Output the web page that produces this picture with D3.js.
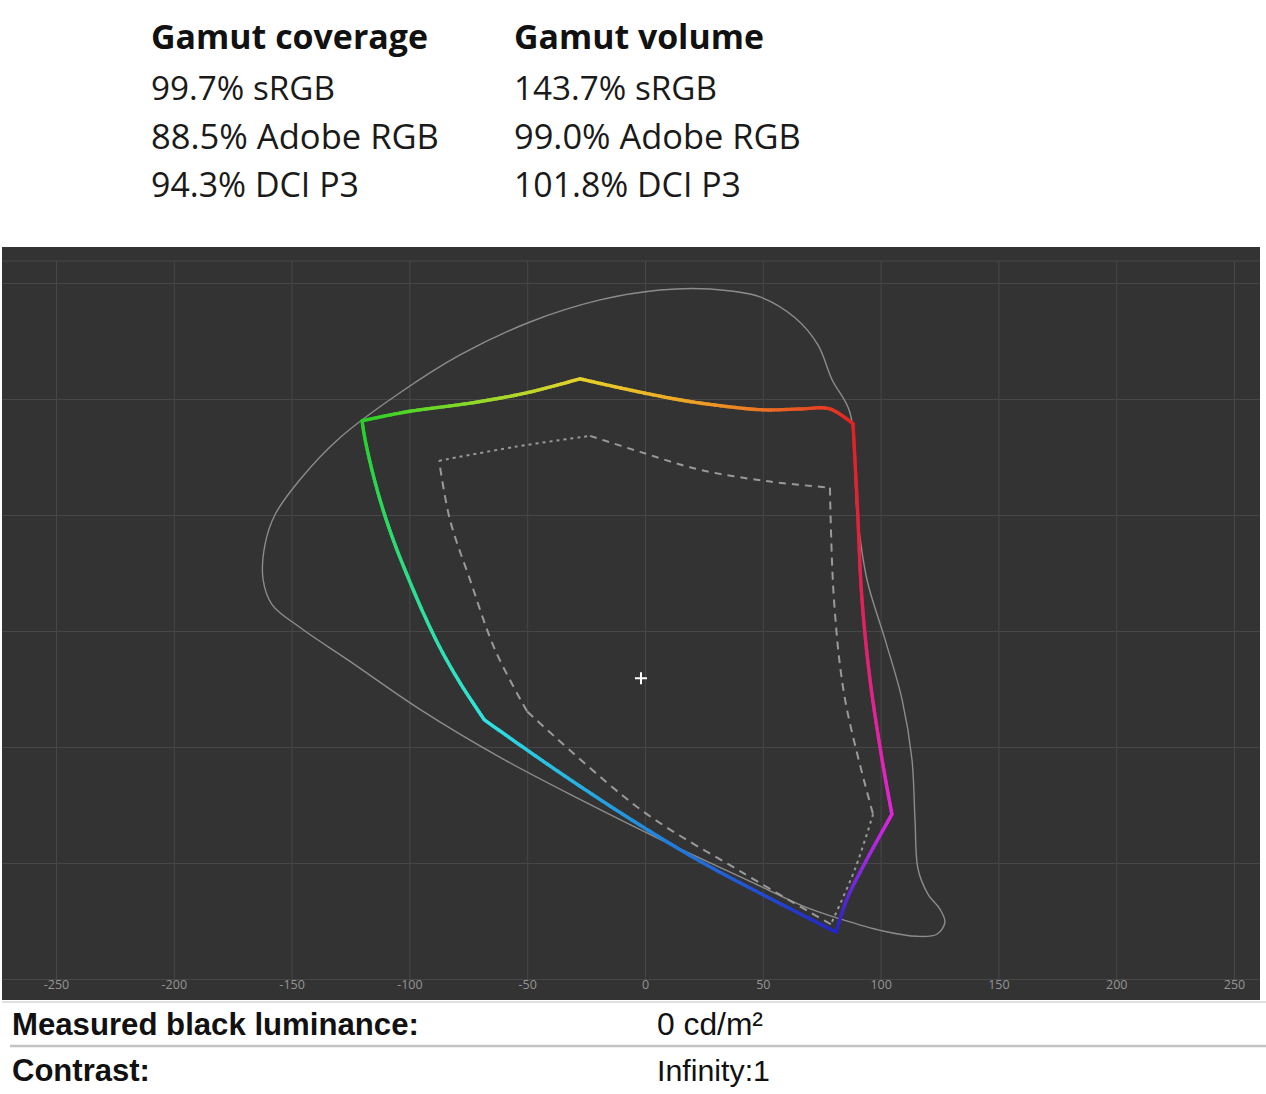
<!DOCTYPE html>
<html>
<head>
<meta charset="utf-8">
<script src="https://cdn.jsdelivr.net/npm/d3@7"></script>
<style>
  body { margin: 0; background: #fff; }
  svg { display: block; }
</style>
</head>
<body>
<div id="chart"></div>
<script>
// ---- data ----
const coverageTitle = "Gamut coverage";
const coverageLines = ["99.7% sRGB", "88.5% Adobe RGB", "94.3% DCI P3"];
const volumeTitle = "Gamut volume";
const volumeLines = ["143.7% sRGB", "99.0% Adobe RGB", "101.8% DCI P3"];

const xTicks = [-250, -200, -150, -100, -50, 0, 50, 100, 150, 200, 250];
const yTicks = [-150, -100, -50, 0, 50, 100, 150];

// measured gamut, a*/b* points per edge (corner to corner)
const measuredEdges = [
  { from: "G", to: "Y", pts: [[-120.1, 90.6], [-101.0, 94.5], [-73.0, 98.4], [-50.1, 102.7], [-27.6, 108.7]] },
  { from: "Y", to: "R", pts: [[-27.6, 108.7], [-10.6, 104.8], [14.9, 99.6], [36.1, 96.6], [50.9, 95.3], [65.8, 95.7], [78.5, 95.7], [88.3, 89.3]] },
  { from: "R", to: "M", pts: [[88.3, 89.3], [90.0, 56.6], [92.1, 13.6], [95.5, -20.9], [100.6, -55.3], [104.8, -79.0]] },
  { from: "M", to: "B", pts: [[104.8, -79.0], [94.2, -98.4], [85.7, -115.6], [81.1, -129.8]] },
  { from: "B", to: "C", pts: [[81.1, -129.8], [48.8, -113.0], [23.3, -99.2], [-2.1, -83.7], [-27.6, -66.9], [-48.8, -52.2], [-68.3, -38.2]] },
  { from: "C", to: "G", pts: [[-68.3, -38.1], [-78.1, -23.0], [-86.6, -8.0], [-93.8, 7.1], [-100.2, 22.2], [-106.1, 37.2], [-111.2, 52.3], [-115.4, 67.4], [-118.8, 82.5], [-120.1, 90.6]] }
];

// reference gamut (dashed)
const referenceEdges = [
  { name: "GY", pts: [[-87.4, 73.4], [-55.2, 79.4], [-23.3, 84.1]] },
  { name: "YR", pts: [[-23.3, 84.1], [-2.1, 77.2], [23.3, 69.5], [53.1, 64.4], [78.5, 61.8]] },
  { name: "RM", pts: [[78.5, 61.8], [80.2, 13.6], [84.9, -29.5], [96.8, -79.0]] },
  { name: "MB", pts: [[96.8, -79.0], [89.1, -102.7], [78.9, -126.4]] },
  { name: "BC", pts: [[78.9, -126.4], [40.3, -103.5], [-2.1, -76.8], [-50.1, -34.6]] },
  { name: "CG", pts: [[-50.1, -34.6], [-63.7, -8.0], [-74.3, 22.2], [-82.8, 48.0], [-87.4, 73.4]] }
];

// outline of visible colours
const locus = [
  [-162.1, 22.2], [-161.3, 37.2], [-157.0, 50.2], [-146.4, 65.3], [-129.5, 83.3], [-104.0, 102.7],
  [-78.5, 119.0], [-48.8, 133.2], [-19.1, 142.7], [6.4, 147.0], [27.6, 147.4], [48.8, 144.0],
  [63.7, 135.0], [73.4, 123.3], [79.4, 108.3], [87.0, 94.1], [90.0, 51.0], [94.2, 22.2],
  [101.9, -3.7], [109.1, -29.5], [113.3, -55.3], [114.6, -81.1], [115.9, -102.7], [120.1, -113.4],
  [125.2, -119.9], [127.3, -125.5], [123.9, -130.7], [115.4, -131.6], [101.0, -129.3], [82.8, -124.1],
  [67.1, -118.6], [44.6, -107.9], [6.4, -89.8], [-27.6, -72.6], [-61.5, -54.5], [-95.5, -33.8],
  [-125.2, -13.1], [-146.4, 1.5], [-158.3, 11.4]
];

const whitePoint = [-1.7, -20.4];

const statRows = [
  { label: "Measured black luminance:", value: "0 cd/m²" },
  { label: "Contrast:", value: "Infinity:1" }
];

// ---- styles ----
const cornerColor = { G: "#27d027", Y: "#e6d12c", R: "#e22222", M: "#e424dc", B: "#2424c4", C: "#2fe3e0" };
const midColor = { GY: "#8fdc2a", YR: "#f2a024", RM: "#e02250", MB: "#8a2ae2", BC: "#1f86e2", CG: "#2ee08a" };
const refDash = { GY: "3,4", YR: "7,6", RM: "8,6", MB: "3,4", BC: "8,6", CG: "8,6" };

const W = 1266, H = 1094;
const svg = d3.select("#chart").append("svg").attr("width", W).attr("height", H);

// ---- header text ----
function fit(sel, w) {
  const fs = parseFloat(sel.style("font-size"));
  const len = sel.node().getComputedTextLength();
  sel.style("font-size", (fs * w / len) + "px");
  return sel;
}

const head = svg.append("g").style("font-family", "'Open Sans', 'Noto Sans', sans-serif");
function column(x, title, lines, titleW, lineW) {
  fit(head.append("text").attr("x", x).attr("y", 49).style("font-size", "33px")
    .style("font-weight", 700).attr("fill", "#111").text(title), titleW);
  lines.forEach((t, i) => {
    fit(head.append("text").attr("x", x).attr("y", 100 + i * 48.5).style("font-size", "33px")
      .attr("fill", "#1a1a1a").text(t), lineW[i]);
  });
}
column(151, coverageTitle, coverageLines, 277, [184, 288, 208]);
column(514, volumeTitle, volumeLines, 250, [203, 287, 227]);

// ---- chart ----
const plot = { left: 2, right: 1260, top: 247, bottom: 1000, frameTop: 261 };
const x = d3.scaleLinear().domain([-250, 250]).range([56, 1234]);
const y = d3.scaleLinear().domain([-150, 150]).range([979, 283]);

svg.append("rect").attr("x", plot.left).attr("y", plot.top)
  .attr("width", plot.right - plot.left).attr("height", plot.bottom - plot.top).attr("fill", "#333333");

svg.append("line").attr("x1", plot.left).attr("x2", plot.right)
  .attr("y1", plot.frameTop).attr("y2", plot.frameTop).attr("stroke", "#484848");

const yAxis = svg.append("g").attr("transform", `translate(${plot.left},0)`)
  .call(d3.axisLeft(y).tickValues(yTicks).tickSize(-(plot.right - plot.left)).tickFormat(""));
yAxis.select(".domain").remove();
yAxis.selectAll("line").attr("stroke", "#474747");

const xAxis = svg.append("g").attr("transform", `translate(0,${y(-150)})`)
  .call(d3.axisBottom(x).tickValues(xTicks).tickSizeInner(-(y(-150) - plot.frameTop)).tickSizeOuter(0)
    .tickPadding(1).tickFormat(d => String(d)));
xAxis.select(".domain").remove();
xAxis.selectAll("line").attr("stroke", "#474747");
xAxis.selectAll("text").attr("fill", "#959595").style("font-size", "12.5px")
  .style("font-family", "'Open Sans', sans-serif");

// visible locus
const px = p => [x(p[0]), y(p[1])];
svg.append("path")
  .attr("d", d3.line().curve(d3.curveCatmullRomClosed)(locus.map(px)))
  .attr("fill", "none").attr("stroke", "#8c8c8c").attr("stroke-width", 1.4);

// reference gamut, dashed
svg.append("g").selectAll("path").data(referenceEdges).join("path")
  .attr("d", d => d3.line().curve(d3.curveCatmullRom)(d.pts.map(px)))
  .attr("fill", "none").attr("stroke", "#9a9a9a").attr("stroke-width", 2)
  .attr("stroke-dasharray", d => refDash[d.name]);

// measured gamut, coloured by position along each edge
const gMeasured = svg.append("g");
const tmp = svg.append("path").attr("fill", "none");
measuredEdges.forEach(e => {
  tmp.attr("d", d3.line().curve(d3.curveCatmullRom)(e.pts.map(px)));
  const node = tmp.node();
  const L = node.getTotalLength();
  const n = Math.max(8, Math.ceil(L / 3));
  const col = d3.interpolateRgbBasis([cornerColor[e.from], midColor[e.from + e.to], cornerColor[e.to]]);
  const samples = d3.range(n + 1).map(i => node.getPointAtLength(L * i / n));
  gMeasured.selectAll(null).data(d3.range(n)).join("line")
    .attr("x1", i => samples[i].x).attr("y1", i => samples[i].y)
    .attr("x2", i => samples[i + 1].x).attr("y2", i => samples[i + 1].y)
    .attr("stroke", i => col((i + 0.5) / n))
    .attr("stroke-width", 3.4).attr("stroke-linecap", "round");
});
tmp.remove();

// white point
const [wx, wy] = px(whitePoint);
svg.append("path").attr("d", `M${wx - 6},${wy}H${wx + 6}M${wx},${wy - 6}V${wy + 6}`)
  .attr("stroke", "#fff").attr("stroke-width", 2);

// ---- bottom rows ----
svg.append("line").attr("x1", 2).attr("x2", 1266).attr("y1", 1002).attr("y2", 1002)
  .attr("stroke", "#d6d6d6").attr("stroke-width", 1.5);
svg.append("line").attr("x1", 10).attr("x2", 1266).attr("y1", 1046).attr("y2", 1046)
  .attr("stroke", "#c4c4c4").attr("stroke-width", 2.5);

const rows = svg.append("g").style("font-family", "'Liberation Sans', Arial, sans-serif");
const labelW = [407, 138];
const valueW = [106, 113];
statRows.forEach((r, i) => {
  const yy = 1035 + i * 46;
  fit(rows.append("text").attr("x", 12).attr("y", yy).style("font-size", "29px")
    .style("font-weight", 700).attr("fill", "#111").text(r.label), labelW[i]);
  fit(rows.append("text").attr("x", 657).attr("y", yy).style("font-size", "29px")
    .attr("fill", "#111").text(r.value), valueW[i]);
});
</script>
</body>
</html>
